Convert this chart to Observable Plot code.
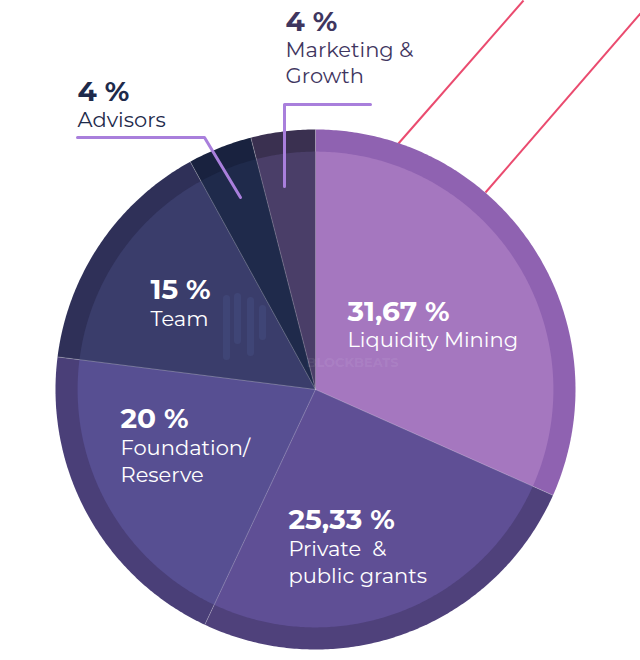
<!DOCTYPE html>
<html><head><meta charset="utf-8">
<script src="https://cdn.jsdelivr.net/npm/d3@7"></script>
<script src="https://cdn.jsdelivr.net/npm/@observablehq/plot@0.6"></script>
<style>body{margin:0;background:#fff}</style>
</head><body><div id="chart"></div>
<script>
// ---- data ----
const categories = ["Liquidity Mining", "Private & public grants", "Foundation/Reserve", "Team", "Advisors", "Marketing & Growth"];
const shares = [31.67, 25.33, 20, 15, 4, 4];
const percentLabels = ["31,67 %", "25,33 %", "20 %", "15 %", "4 %", "4 %"];
const nameLines = [["Liquidity Mining"], ["Private  &", "public grants"], ["Foundation/", "Reserve"], ["Team"], ["Advisors"], ["Marketing &", "Growth"]];
const fillColors = ["#a577bf", "#5f4f95", "#574f92", "#3a3d6b", "#1f2a4b", "#4a3e68"];
const rimColors = ["#8f62b1", "#4f417b", "#4a3f78", "#2f3058", "#19223f", "#3a3050"];
const labelColors = ["#ffffff", "#ffffff", "#ffffff", "#ffffff", "#1e2a4b", "#3f365f"];
const watermark = "BLOCKBEATS";

// ---- layout (pixels) ----
const W = 640, H = 660, CX = 315, CY = 389, R = 260, RIM = 0.915;
const px = v => (v - CX) / R;
const py = v => (CY - v) / R;
const labelAnchor = [[347, 320], [288, 528], [120, 427], [150, 298], [77, 100], [285, 30]];
const lineGap = [26, 27, 27, 27, 26, 26];

const arcs = d3.pie().sort(null).value(d => d)(shares);

function slice(a, r, key, color) {
  const pts = [{x: 0, y: 0, key, color}];
  const n = Math.max(8, Math.ceil((a.endAngle - a.startAngle) / 0.01));
  for (let i = 0; i <= n; i++) {
    const t = a.startAngle + (a.endAngle - a.startAngle) * i / n;
    pts.push({x: r * Math.sin(t), y: r * Math.cos(t), key, color});
  }
  return pts;
}
const outer = arcs.flatMap((a, i) => slice(a, 1, "o" + i, rimColors[i]));
const inner = arcs.flatMap((a, i) => slice(a, RIM, "i" + i, fillColors[i]));
const seps = arcs.map(a => ({x1: 0, y1: 0, x2: Math.sin(a.startAngle), y2: Math.cos(a.startAngle)}));

const pctText = categories.map((c, i) => ({x: px(labelAnchor[i][0]), y: py(labelAnchor[i][1]), t: percentLabels[i], c: labelColors[i]}));
const nameText = categories.flatMap((c, i) => nameLines[i].map((ln, j) => ({
  x: px(labelAnchor[i][0]), y: py(labelAnchor[i][1] + lineGap[i] * (j + 1)), t: ln, c: labelColors[i]
})));

const leaderAdvisors = [[77, 137], [204, 137], [240, 197]].map(([a, b]) => ({x: px(a), y: py(b)}));
const leaderMarketing = [[370, 104], [284, 104], [284, 186]].map(([a, b]) => ({x: px(a), y: py(b)}));
const pinkLines = [
  {x1: px(398), y1: py(143), x2: px(523), y2: py(0)},
  {x1: px(485), y1: py(192), x2: px(640), y2: py(13)}
];
const logoBars = [[226, 298, 356], [237, 296, 340], [250, 300, 352], [262, 308, 336]]
  .map(([a, b, c]) => ({x1: px(a), y1: py(b), x2: px(a), y2: py(c)}));

const font = "Montserrat, 'Open Sans', sans-serif";

const chart = Plot.plot({
  width: W, height: H, margin: 0,
  x: {domain: [-1, 1], range: [CX - R, CX + R], axis: null},
  y: {domain: [-1, 1], range: [CY + R, CY - R], axis: null},
  color: {type: "identity"},
  style: {background: "#fff", overflow: "visible"},
  marks: [
    Plot.link(pinkLines, {x1: "x1", y1: "y1", x2: "x2", y2: "y2", stroke: "#ea4b6f", strokeWidth: 2}),
    Plot.line(outer, {x: "x", y: "y", z: "key", fill: "color", stroke: null}),
    Plot.line(inner, {x: "x", y: "y", z: "key", fill: "color", stroke: null}),
    Plot.link(seps, {x1: "x1", y1: "y1", x2: "x2", y2: "y2", stroke: "#ffffff", strokeOpacity: 0.25, strokeWidth: 1}),
    Plot.link(logoBars, {x1: "x1", y1: "y1", x2: "x2", y2: "y2", stroke: "#6f86c8", strokeOpacity: 0.12, strokeWidth: 7, strokeLinecap: "round"}),
    Plot.text([watermark], {x: px(352), y: py(366), text: d => d, fill: "#ffffff", fillOpacity: 0.08, fontSize: 13, fontWeight: "bold", fontFamily: font, textAnchor: "middle", lineAnchor: "bottom"}),
    Plot.line(leaderAdvisors, {x: "x", y: "y", stroke: "#a97fdc", strokeWidth: 3}),
    Plot.line(leaderMarketing, {x: "x", y: "y", stroke: "#a97fdc", strokeWidth: 3}),
    Plot.text(pctText, {x: "x", y: "y", text: "t", fill: "c", fontSize: 28, fontWeight: "bold", fontFamily: font, textAnchor: "start", lineAnchor: "bottom"}),
    Plot.text(nameText, {x: "x", y: "y", text: "t", fill: "c", fontSize: 21, fontFamily: font, textAnchor: "start", lineAnchor: "bottom"})
  ]
});
document.getElementById("chart").appendChild(chart);
</script>
</body></html>
